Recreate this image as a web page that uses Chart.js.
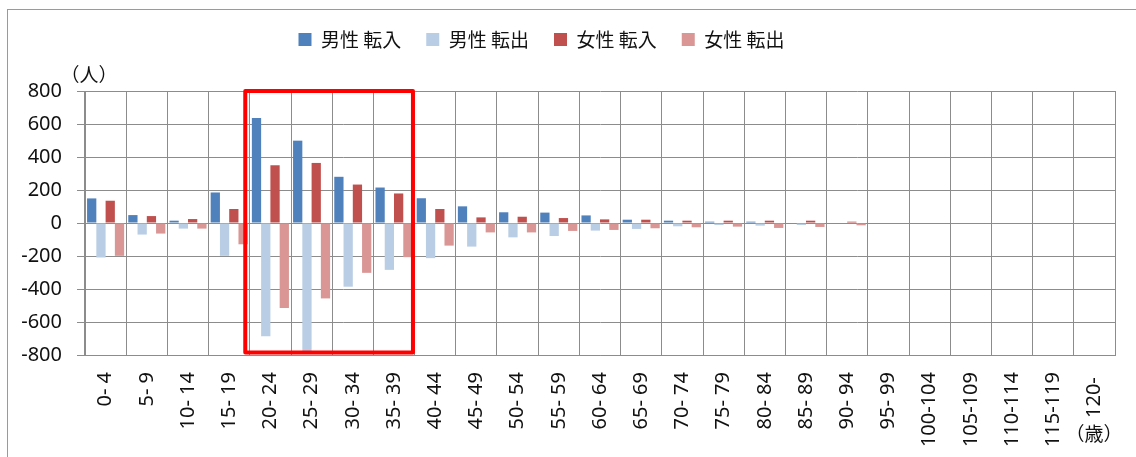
<!DOCTYPE html>
<html>
<head>
<meta charset="utf-8">
<script src="https://cdn.jsdelivr.net/npm/chart.js@4/dist/chart.umd.min.js"></script>
<style>
  html, body { margin: 0; padding: 0; background: #fff; }
  #wrap { position: relative; width: 1136px; height: 457px; overflow: hidden; }
  #frame { position: absolute; left: 7px; top: 9px; width: 1300px; height: 600px; border: 1.5px solid #9a9a9a; box-sizing: border-box; }
  #c { position: absolute; left: 0; top: 0; }
</style>
</head>
<body>
<div id="wrap">
  <div id="frame"></div>
  <canvas id="c" width="1136" height="457"></canvas>
</div>
<script>
const categories = ["0- 4","5- 9","10- 14","15- 19","20- 24","25- 29","30- 34","35- 39","40- 44","45- 49","50- 54","55- 59","60- 64","65- 69","70- 74","75- 79","80- 84","85- 89","90- 94","95- 99","100-104","105-109","110-114","115-119","120- "];
const seriesNames = ["男性 転入", "男性 転出", "女性 転入", "女性 転出"];
const maleIn    = [149, 48, 14, 185, 636, 499, 280, 215, 150, 101, 65, 63, 46, 20, 14, 8, 8, 3, 0, 0, 0, 0, 0, 0, 0];
const maleOut   = [-209, -70, -34, -199, -686, -780, -386, -284, -213, -143, -87, -79, -46, -36, -20, -12, -16, -12, 0, 0, 0, 0, 0, 0, 0];
const femaleIn  = [135, 42, 24, 85, 350, 364, 233, 179, 85, 34, 38, 30, 22, 20, 14, 14, 14, 14, 8, 0, 0, 0, 0, 0, 0];
const femaleOut = [-199, -64, -34, -129, -515, -457, -302, -207, -137, -57, -57, -48, -42, -32, -26, -22, -30, -24, -14, 0, 0, 0, 0, 0, 0];
const yTicks = [-800, -600, -400, -200, 0, 200, 400, 600, 800];
const yUnit = "（人）";
const xUnit = "（歳）";
const highlightFrom = 4, highlightTo = 7;

const colors = ["#4F81BD", "#B9CDE5", "#C0504D", "#D99694"];
const FONT = "'Noto Sans', 'Noto Sans CJK JP', sans-serif";
const CJK = "'Noto Sans CJK JP', 'Noto Sans', sans-serif";

const extras = {
  id: 'extras',
  beforeLayout(chart) {
    const lg = chart.legend;
    if (lg && !lg._patched) {
      const f = lg.fit;
      lg.fit = function () { f.call(this); this.height += 32; };
      lg._patched = true;
    }
  },
  afterLayout(chart) {
    const lg = chart.legend;
    if (lg) { lg.left -= 21; lg.right -= 21; }
  },
  afterDatasetsDraw(chart) {
    const { ctx, scales: { x, y } } = chart;
    const w = x.getPixelForValue(1) - x.getPixelForValue(0);
    const left = x.getPixelForValue(highlightFrom) - 0.61 * w;
    const right = x.getPixelForValue(highlightTo) + 0.46 * w;
    const top = y.getPixelForValue(800);
    const bottom = y.getPixelForValue(-785);
    ctx.save();
    ctx.strokeStyle = '#FF0000';
    ctx.lineWidth = 4;
    ctx.lineJoin = 'round';
    ctx.strokeRect(left, top, right - left, bottom - top);
    ctx.restore();
  },
  afterDraw(chart) {
    const { ctx, chartArea } = chart;
    ctx.save();
    ctx.fillStyle = '#111';
    ctx.font = "19px " + CJK;
    ctx.textAlign = 'center';
    ctx.textBaseline = 'middle';
    ctx.fillText(yUnit, chartArea.left + 4, chartArea.top - 16);
    ctx.fillText(xUnit, chartArea.right - 21, chartArea.bottom + 79);
    ctx.restore();
  }
};

const data = {
  labels: categories,
  datasets: [maleIn, maleOut, femaleIn, femaleOut].map((d, i) => ({
    label: seriesNames[i],
    data: d,
    backgroundColor: colors[i],
    borderWidth: 0,
    categoryPercentage: 0.9,
    barPercentage: 1.0
  }))
};

new Chart(document.getElementById('c'), {
  type: 'bar',
  data,
  plugins: [extras],
  options: {
    responsive: false,
    animation: false,
    devicePixelRatio: 1,
    layout: { padding: { left: 10, right: 21, top: 5, bottom: 0 } },
    plugins: {
      tooltip: { enabled: false },
      legend: {
        position: 'top',
        labels: {
          boxWidth: 13, boxHeight: 13, padding: 25,
          color: '#111',
          font: { family: CJK, size: 19 }
        }
      }
    },
    scales: {
      x: {
        grid: { color: '#8c8c8c', lineWidth: 1, drawTicks: false, offset: true },
        border: { color: '#8c8c8c' },
        ticks: {
          autoSkip: false, maxRotation: 90, minRotation: 90, padding: 17,
          color: '#111', font: { family: FONT, size: 20 }
        },
        afterFit(s) { s.height = 102; }
      },
      y: {
        min: -800, max: 800,
        afterBuildTicks(s) { s.ticks = yTicks.map(v => ({ value: v })); },
        grid: { color: '#8c8c8c', lineWidth: 1, tickLength: 8 },
        border: { color: '#8c8c8c' },
        ticks: {
          padding: 15, color: '#111',
          font: { family: FONT, size: 20 }
        },
        afterFit(s) { s.width = 75; }
      }
    }
  }
});
</script>
</body>
</html>
